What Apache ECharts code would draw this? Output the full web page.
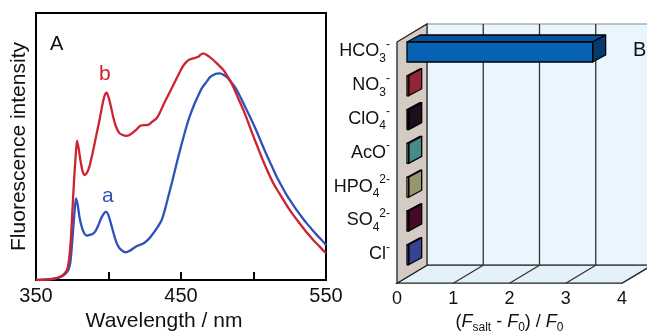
<!DOCTYPE html>
<html>
<head>
<meta charset="utf-8">
<script src="https://cdn.jsdelivr.net/npm/echarts@6/dist/echarts.min.js"></script>
<style>
  html, body { margin: 0; padding: 0; background: #fff; }
  #chart { width: 647px; height: 331px; }
</style>
</head>
<body>
<div id="chart"></div>
<script>
// ---- panel A: emission spectra (arbitrary intensity, 0..100 = frame height)
const wavelengthB = [350, 358, 363, 367, 370, 371.8, 373, 374, 374.8, 375.6, 376.4, 377.3, 378.3, 379.5, 380.6, 382, 383.4, 385, 386.8, 389, 391.4, 394, 396, 397.5, 398.7, 400, 401.7, 403.5, 405.2, 407.5, 409.8, 412, 414.5, 417, 419, 421.7, 424, 427.4, 430, 433.2, 435.5, 437.8, 440.5, 443.6, 446.5, 449.3, 451.5, 453.9, 456, 458.5, 461.9, 463.5, 465.4, 467.5, 470, 472.3, 475.7, 479.2, 482.6, 486, 489.5, 493, 496.5, 500, 503.5, 506.9, 510.3, 513.7, 517.2, 520.6, 524, 527.5, 531, 534.4, 537.8, 541.2, 545.8, 550];
const intensityB = [0, 0.2, 0.6, 1.3, 2.6, 4.5, 8.7, 15, 22.5, 31, 38.7, 46, 52.2, 49, 45, 41, 39.3, 40, 42.4, 47.5, 53.7, 60.5, 66.2, 69.3, 70.2, 68.5, 64.9, 60.5, 57.4, 55, 54.3, 54, 54.3, 55.3, 56.2, 57.7, 58, 58.1, 59.2, 60.6, 62.8, 65.5, 68.5, 71.8, 75, 78, 80.2, 81.8, 82.6, 83, 83.6, 84.4, 84.9, 84.4, 83.4, 82.4, 80.6, 78.7, 75.8, 72.4, 68, 63.7, 58.8, 53.7, 48.9, 44.3, 40.1, 36.2, 33, 30, 27, 24.3, 21.8, 19.4, 17.1, 15, 12.4, 10];

const wavelengthA = [350, 358, 363, 367, 370, 372, 373.5, 374.5, 375.5, 376.5, 377.6, 378.8, 380, 381.5, 383, 385, 387, 389, 391, 393, 395, 397, 398.3, 399.8, 401.5, 403.5, 405.5, 407.5, 410, 412, 414.8, 417, 420, 424, 427.5, 430.9, 433.5, 436.7, 439, 441.2, 444, 447, 450, 452.8, 455.5, 458.5, 461.5, 464.3, 467.7, 470, 472.3, 474.6, 476.9, 479.5, 482.6, 485.5, 488.4, 491.8, 495.3, 498.8, 502.2, 505.7, 509.1, 512.6, 516, 519.5, 522.9, 526.4, 529.8, 533.3, 536.7, 540.2, 543.6, 547, 550];
const intensityA = [0, 0.2, 0.5, 1.1, 2.2, 3.5, 6, 11, 18, 25, 30.6, 28, 23.5, 20, 17.8, 16.6, 16.9, 17.2, 18.3, 20.5, 23.2, 25, 25.6, 24.5, 21.5, 17.5, 14, 12, 10.8, 10.4, 11, 11.8, 12.8, 13.7, 15.2, 17.5, 19.5, 22.5, 26.5, 31.2, 37, 43.7, 50, 55.6, 60.5, 64.9, 68.6, 71.8, 74.3, 76, 76.8, 77.3, 77.4, 76.8, 75.5, 73.5, 71.2, 67.6, 63.7, 59.7, 55.6, 51.1, 46.8, 42.7, 38.7, 35.1, 31.8, 28.9, 26.2, 23.6, 21.2, 19, 16.9, 15, 13.1];

const wavelengthTicks = [350, 450, 550];

// ---- panel B: response to anions
const anionNames = ['HCO3-', 'NO3-', 'ClO4-', 'AcO-', 'HPO4 2-', 'SO4 2-', 'Cl-'];
const anionRich = [
  '{m|HCO}{sub|3}{sup|-}', '{m|NO}{sub|3}{sup|-}', '{m|ClO}{sub|4}{sup|-}', '{m|AcO}{sup|-}',
  '{m|HPO}{sub|4}{sup|2-}', '{m|SO}{sub|4}{sup|2-}', '{m|Cl}{sup|-}'
];
const responseValues = [3.3, 0.03, 0.03, 0.03, 0.03, 0.03, 0.03];
const responseTicks = [0, 1, 2, 3, 4];

const barColors = ['#0862b4', '#f83e56', '#30182e', '#72e8e4', '#fcfcb8', '#74103f', '#566ef2'];
const FONT = 'Liberation Sans, Arial, Helvetica, sans-serif';
const DEPTH = [30, -18];       // back plane shift of the 3D box
const BAR_DEPTH = [13, -7];    // bar thickness
const BAR_SHIFT = 10;          // bars sit a bit behind the front plane
const BAR_H = 20;
const FLOOR_OFFSET = 12;       // front axis below the category band
const WALL_TOP = 7.4;

function shade(hex, f) {
  const n = parseInt(hex.slice(1), 16);
  const r = Math.round(((n >> 16) & 255) * f), g = Math.round(((n >> 8) & 255) * f), b = Math.round((n & 255) * f);
  return 'rgb(' + r + ',' + g + ',' + b + ')';
}

function renderWalls(params, api) {
  const cs = params.coordSys;
  const x0 = api.coord([responseTicks[0], 0])[0];
  const x4 = api.coord([responseTicks[responseTicks.length - 1], 0])[0];
  const fb = cs.y + cs.height + FLOOR_OFFSET;
  const ft = cs.y + WALL_TOP;
  const dx = DEPTH[0], dy = DEPTH[1];
  return {
    type: 'group',
    children: [
      { type: 'rect', shape: { x: x0 + dx, y: ft + dy, width: x4 - x0 + 20, height: fb - ft },
        style: { fill: '#eaf6fd', stroke: '#888', lineWidth: 1 } },
      { type: 'polygon', shape: { points: [[x0, fb], [x0 + dx, fb + dy], [x4 + dx, fb + dy], [x4, fb]] },
        style: { fill: '#e2f1fa', stroke: '#222', lineWidth: 1.3 } },
      { type: 'polygon', shape: { points: [[x0, ft], [x0 + dx, ft + dy], [x0 + dx, fb + dy], [x0, fb]] },
        style: { fill: '#d4ccc4', stroke: '#222', lineWidth: 1.3 } }
    ]
  };
}

function renderGridLine(params, api) {
  const cs = params.coordSys;
  const x = api.coord([api.value(0), 0])[0];
  const fb = cs.y + cs.height + FLOOR_OFFSET;
  const ft = cs.y + WALL_TOP;
  const dx = DEPTH[0], dy = DEPTH[1];
  const ls = { stroke: '#333', lineWidth: 1.3 };
  return {
    type: 'group',
    children: [
      { type: 'line', shape: { x1: x, y1: fb, x2: x + dx, y2: fb + dy }, style: ls },
      { type: 'line', shape: { x1: x + dx, y1: fb + dy, x2: x + dx, y2: ft + dy }, style: ls }
    ]
  };
}

function renderBar(params, api) {
  const idx = api.value(1);
  const s = api.coord([0, idx]);
  const e = api.coord([api.value(0), idx]);
  const color = api.visual('color');
  const x0 = s[0] + BAR_SHIFT, x1 = e[0] + BAR_SHIFT;
  const y0 = s[1] - BAR_H / 2 + 0.5, y1 = y0 + BAR_H;
  const dx = BAR_DEPTH[0], dy = BAR_DEPTH[1];
  const st = { stroke: '#000', lineWidth: 1.3, lineJoin: 'round' };
  return {
    type: 'group',
    children: [
      { type: 'polygon', shape: { points: [[x0, y0], [x0 + dx, y0 + dy], [x1 + dx, y0 + dy], [x1, y0]] },
        style: Object.assign({ fill: shade(color, 0.85) }, st) },
      { type: 'polygon', shape: { points: [[x1, y0], [x1 + dx, y0 + dy], [x1 + dx, y1 + dy], [x1, y1]] },
        style: Object.assign({ fill: shade(color, 0.6) }, st) },
      { type: 'rect', shape: { x: x0, y: y0, width: x1 - x0, height: BAR_H },
        style: Object.assign({ fill: color }, st) }
    ]
  };
}

const chart = echarts.init(document.getElementById('chart'));
const axisBlack = { lineStyle: { color: '#000', width: 2 } };

chart.setOption({
  animation: false,
  backgroundColor: '#fff',
  grid: [
    { left: 36, top: 13, width: 290, height: 267, show: true, borderColor: '#000', borderWidth: 2,
      outerBoundsMode: 'none', containLabel: false },
    { left: 397, top: 34.6, width: 225, height: 236.6, outerBoundsMode: 'none', containLabel: false }
  ],
  xAxis: [
    {
      gridIndex: 0, type: 'value', min: 350, max: 550, interval: 50,
      axisLine: axisBlack,
      axisTick: { show: true, inside: true, length: 8, lineStyle: { color: '#000', width: 2 } },
      splitLine: { show: false },
      axisLabel: {
        color: '#111', fontFamily: FONT, fontSize: 20, margin: 6,
        formatter: v => (wavelengthTicks.indexOf(v) >= 0 ? String(v) : '')
      },
      name: 'Wavelength / nm', nameLocation: 'middle', nameGap: 27,
      nameTextStyle: { color: '#111', fontFamily: FONT, fontSize: 21, padding: [0, 34, 0, 0] }
    },
    {
      gridIndex: 1, type: 'value', min: 0, max: 4, interval: 1, offset: FLOOR_OFFSET,
      axisLine: { lineStyle: { color: '#111', width: 1.5 } },
      axisTick: { show: false },
      splitLine: { show: false },
      axisLabel: { color: '#111', fontFamily: FONT, fontSize: 18, margin: 7 },
      name: '({it|F}{s|salt}{n| - }{it|F}{s|0}{n|) / }{it|F}{s|0}',
      nameLocation: 'middle', nameGap: 24,
      nameTextStyle: {
        color: '#111', fontFamily: FONT, fontSize: 18,
        rich: {
          n: { fontSize: 18, lineHeight: 24, fontFamily: FONT, color: '#111' },
          it: { fontSize: 18, lineHeight: 24, fontStyle: 'italic', fontFamily: FONT, color: '#111' },
          s: { fontSize: 12, lineHeight: 12, verticalAlign: 'bottom', fontFamily: FONT, color: '#111' }
        }
      }
    }
  ],
  yAxis: [
    {
      gridIndex: 0, type: 'value', min: 0, max: 100,
      axisLine: axisBlack, axisTick: { show: false }, axisLabel: { show: false }, splitLine: { show: false },
      name: 'Fluorescence intensity', nameLocation: 'middle', nameRotate: 90, nameGap: 6,
      nameTextStyle: { color: '#111', fontFamily: FONT, fontSize: 21 }
    },
    {
      gridIndex: 1, type: 'category', inverse: true, data: anionNames,
      axisLine: { show: false }, axisTick: { show: false }, splitLine: { show: false },
      axisLabel: {
        margin: 7, fontFamily: FONT, color: '#111',
        formatter: (v, i) => anionRich[i],
        rich: {
          m: { fontSize: 18, lineHeight: 26, fontFamily: FONT, color: '#111' },
          sub: { fontSize: 12, lineHeight: 12, verticalAlign: 'bottom', fontFamily: FONT, color: '#111' },
          sup: { fontSize: 12, lineHeight: 12, verticalAlign: 'top', fontFamily: FONT, color: '#111' }
        }
      }
    }
  ],
  series: [
    {
      name: 'a', type: 'line', xAxisIndex: 0, yAxisIndex: 0,
      data: wavelengthA.map((w, i) => [w, intensityA[i]]),
      showSymbol: false, smooth: 0.25, lineStyle: { color: '#2d52b8', width: 2.3 }, z: 3
    },
    {
      name: 'b', type: 'line', xAxisIndex: 0, yAxisIndex: 0,
      data: wavelengthB.map((w, i) => [w, intensityB[i]]),
      showSymbol: false, smooth: 0.25, lineStyle: { color: '#cf2230', width: 2.3 }, z: 4
    },
    {
      type: 'custom', xAxisIndex: 1, yAxisIndex: 1, z: 1, silent: true,
      renderItem: renderWalls, data: [[0, 0]]
    },
    {
      type: 'custom', xAxisIndex: 1, yAxisIndex: 1, z: 2, silent: true,
      renderItem: renderGridLine, data: responseTicks.slice(1).map(t => [t, 0])
    },
    {
      type: 'custom', xAxisIndex: 1, yAxisIndex: 1, z: 3,
      renderItem: renderBar, encode: { x: 0, y: 1 },
      data: responseValues.map((v, i) => ({ value: [v, i], itemStyle: { color: barColors[i] } }))
    }
  ],
  graphic: [
    { type: 'text', z: 100, left: 50, top: 34, style: { text: 'A', font: '20px ' + FONT, fill: '#111' } },
    { type: 'text', z: 100, left: 99, top: 64, style: { text: 'b', font: '21px ' + FONT, fill: '#cf2230' } },
    { type: 'text', z: 100, left: 102, top: 186, style: { text: 'a', font: '21px ' + FONT, fill: '#2d52b8' } },
    { type: 'text', z: 100, left: 633, top: 40, style: { text: 'B', font: '20px ' + FONT, fill: '#111' } }
  ]
});
</script>
</body>
</html>
